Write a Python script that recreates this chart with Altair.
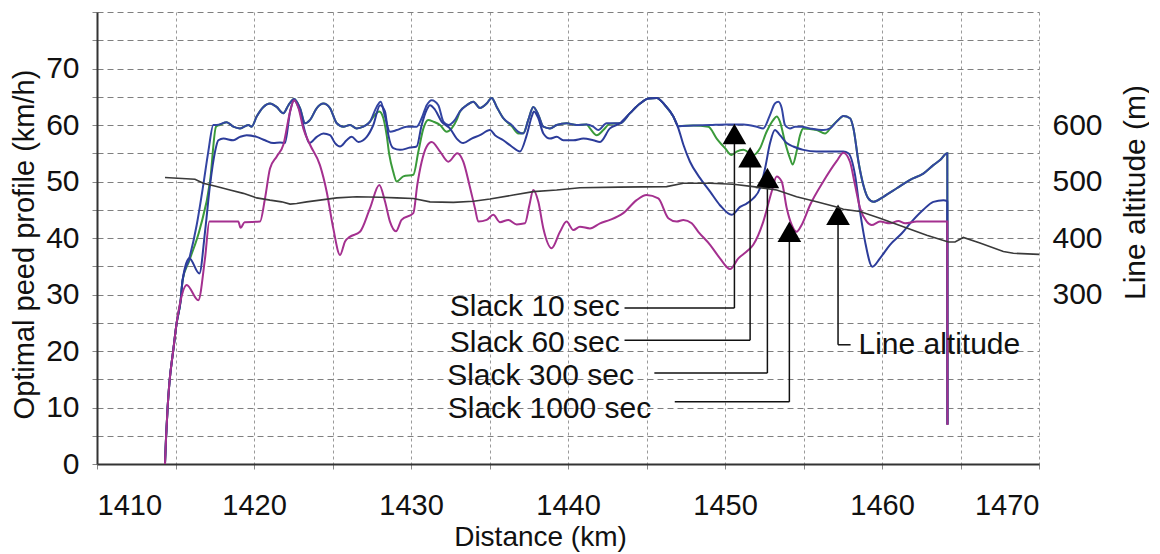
import altair as alt
import pandas as pd

# ---------------- data (km, km/h) ----------------
s10_km = [1414.33, 1414.40, 1414.50, 1414.61, 1414.86, 1415.07, 1415.33, 1415.45, 1415.88, 1416.35, 1416.77, 1417.09,
          1417.41, 1417.62, 1418.26, 1418.68, 1419.11, 1419.64, 1419.85, 1420.17, 1420.6, 1421.02, 1421.44, 1421.87,
          1422.19, 1422.55, 1422.93, 1423.25, 1423.57, 1424.0, 1424.42, 1424.84, 1425.27, 1425.69, 1426.11, 1426.54,
          1426.96, 1427.39, 1427.81, 1428.07, 1428.34, 1428.66, 1429.09, 1429.72, 1430.36, 1430.68, 1431.0, 1431.32,
          1431.74, 1432.06, 1432.38, 1432.8, 1433.12, 1433.55, 1433.97, 1434.39, 1434.82, 1435.14, 1435.46, 1435.88,
          1436.41, 1436.84, 1437.16, 1437.47, 1437.79, 1438.11, 1438.43, 1438.85, 1439.28, 1439.91, 1440.55, 1441.19,
          1441.61, 1441.93, 1442.46, 1443.31, 1443.95, 1444.59, 1445.12, 1445.65, 1446.18, 1446.71, 1447.03, 1447.98,
          1449.05, 1450.1, 1451.17, 1452.02, 1452.44, 1452.87, 1453.18, 1453.4, 1453.61, 1453.82, 1454.14, 1454.46,
          1454.88, 1455.41, 1456.26, 1456.69, 1457.11, 1457.54, 1457.96, 1458.18, 1458.5, 1458.81, 1459.13, 1459.45,
          1460.09, 1460.94, 1461.79, 1462.63, 1463.27, 1463.7, 1464.16, 1464.17]
s10_v = [0, 4.8, 10.1, 14.3, 20.2, 24.9, 29.0, 32.5, 36.4, 42.3, 49.4, 55.3,
         60.0, 60.0, 60.5, 59.7, 59.4, 60.0, 59.7, 61.5, 63.2, 63.8, 63.2, 62.1,
         63.5, 64.6, 63.0, 60.3, 60.9, 63.0, 63.8, 63.0, 60.3, 59.7, 60.0, 59.4,
         59.7, 60.6, 63.2, 64.1, 61.5, 58.8, 59.1, 59.7, 59.7, 61.2, 63.5, 64.4,
         63.5, 60.6, 60.0, 60.9, 62.4, 63.5, 64.1, 63.0, 63.8, 64.8, 63.2, 61.2,
         60.0, 58.8, 58.5, 60.9, 63.2, 61.8, 59.7, 59.4, 60.0, 60.3, 60.0, 60.1,
         59.7, 59.1, 60.3, 60.3, 62.1, 63.8, 64.7, 64.8, 63.5, 61.5, 59.8, 59.9,
         60.0, 60.1, 60.1, 59.7, 59.4, 61.8, 63.8, 64.1, 63.0, 60.0, 59.4, 59.7,
         59.7, 59.4, 59.1, 59.4, 60.6, 61.6, 61.2, 59.4, 53.5, 49.4, 47.0, 46.4,
         47.3, 48.8, 50.3, 51.4, 52.9, 53.8, 55.0, 7.0]

s60_km = [1414.33, 1414.40, 1414.50, 1414.61, 1414.86, 1415.07, 1415.33, 1415.45, 1415.88, 1416.56, 1417.2, 1417.58,
          1417.8, 1418.26, 1418.68, 1419.11, 1419.64, 1419.85, 1420.17, 1420.6, 1421.02, 1421.44, 1421.87, 1422.19,
          1422.55, 1422.93, 1423.25, 1423.57, 1424.0, 1424.42, 1424.84, 1425.27, 1425.69, 1426.11, 1426.54, 1426.96,
          1427.39, 1427.7, 1427.98, 1428.24, 1428.45, 1428.62, 1428.87, 1429.09, 1429.51, 1430.15, 1430.47, 1430.79,
          1431.1, 1431.42, 1431.85, 1432.27, 1432.59, 1432.91, 1433.12, 1433.55, 1433.97, 1434.39, 1434.82, 1435.14,
          1435.46, 1435.88, 1436.41, 1436.84, 1437.16, 1437.47, 1437.79, 1438.11, 1438.43, 1438.85, 1439.28, 1439.91,
          1440.55, 1441.19, 1441.4, 1441.83, 1442.25, 1442.67, 1443.31, 1443.95, 1444.59, 1445.12, 1445.65, 1446.18,
          1446.71, 1447.03, 1447.98, 1448.94, 1449.47, 1450.0, 1450.42, 1450.74, 1451.17, 1451.8, 1452.23, 1452.65,
          1453.08, 1453.29, 1453.5, 1453.82, 1454.14, 1454.31, 1454.56, 1454.78, 1454.99, 1455.84, 1456.37, 1456.79,
          1457.33, 1457.54, 1457.96, 1458.18, 1458.5, 1458.81, 1459.13, 1459.45, 1460.09, 1460.94, 1461.79, 1462.63,
          1463.27, 1463.7, 1464.16, 1464.17]
s60_v = [0, 4.8, 10.1, 14.3, 20.2, 24.9, 29.0, 32.5, 36.0, 41.7, 50.0, 59.7,
         60.0, 60.5, 59.7, 59.4, 60.0, 59.7, 61.5, 63.2, 63.8, 63.2, 62.1, 63.5,
         64.6, 63.0, 60.3, 60.9, 63.0, 63.8, 63.0, 60.3, 59.7, 60.0, 59.4, 59.7,
         60.6, 61.8, 62.4, 61.2, 58.2, 54.7, 51.7, 50.0, 50.9, 51.2, 55.3, 59.4,
         60.9, 60.6, 60.0, 58.8, 59.4, 60.9, 62.4, 63.5, 64.1, 63.0, 63.8, 64.8,
         63.2, 61.2, 59.8, 58.5, 58.6, 60.9, 63.2, 61.8, 59.7, 59.4, 60.0, 60.3,
         60.0, 60.1, 59.4, 58.2, 59.1, 60.2, 60.3, 62.1, 63.8, 64.7, 64.8, 63.5,
         61.5, 59.8, 59.9, 59.7, 57.6, 55.9, 54.7, 55.3, 55.6, 54.7, 55.9, 58.8,
         60.9, 61.5, 60.6, 57.0, 54.1, 53.0, 55.3, 58.2, 59.4, 59.1, 58.5, 59.7,
         61.2, 61.6, 61.2, 59.4, 53.5, 49.4, 47.0, 46.4, 47.3, 48.8, 50.3, 51.4,
         52.9, 53.8, 55.0, 7.0]

s300_km = [1414.33, 1414.40, 1414.50, 1414.61, 1414.86, 1415.07, 1415.33, 1415.45, 1415.88, 1416.52, 1416.88, 1417.2,
           1417.52, 1417.73, 1418.05, 1418.68, 1419.11, 1419.53, 1420.17, 1420.7, 1421.23, 1421.66, 1421.97, 1422.3,
           1422.55, 1422.93, 1423.25, 1423.53, 1424.0, 1424.42, 1424.84, 1425.16, 1425.48, 1425.9, 1426.22, 1426.65,
           1427.18, 1427.6, 1428.03, 1428.34, 1428.56, 1428.87, 1429.3, 1429.94, 1430.36, 1430.68, 1431.0, 1431.21,
           1431.53, 1431.95, 1432.48, 1432.91, 1433.33, 1433.86, 1434.39, 1435.03, 1435.35, 1435.88, 1436.41, 1436.94,
           1437.37, 1437.69, 1437.83, 1438.11, 1438.43, 1438.85, 1439.28, 1439.7, 1440.34, 1440.98, 1441.61, 1442.04,
           1442.67, 1443.31, 1443.95, 1444.59, 1445.12, 1445.65, 1446.18, 1446.71, 1447.03, 1447.35, 1447.77, 1448.41,
           1449.05, 1449.68, 1450.42, 1450.96, 1451.38, 1451.8, 1452.23, 1452.55, 1452.87, 1453.18, 1453.5, 1453.93,
           1454.35, 1454.99, 1455.84, 1456.69, 1457.54, 1457.86, 1458.28, 1458.6, 1458.92, 1459.39, 1459.87, 1460.51,
           1461.25, 1461.89, 1462.63, 1463.27, 1463.91, 1464.16, 1464.17]
s300_v = [0, 4.8, 10.1, 14.3, 20.2, 24.9, 29.0, 32.5, 36.4, 33.7, 41.1, 49.4,
          55.3, 57.3, 57.6, 57.3, 57.9, 58.2, 57.9, 57.3, 56.8, 56.9, 56.8, 62.4,
          64.4, 62.4, 58.8, 56.8, 57.9, 58.5, 58.2, 56.8, 56.2, 57.3, 57.9, 57.0,
          57.9, 60.0, 63.5, 62.4, 58.2, 55.9, 55.6, 56.0, 56.2, 60.0, 62.7, 63.5,
          62.7, 60.6, 59.4, 57.6, 56.8, 57.6, 58.2, 59.1, 58.2, 57.3, 56.2, 55.3,
          58.2, 61.5, 62.4, 61.2, 58.5, 57.6, 57.9, 57.3, 57.3, 57.6, 57.3, 57.0,
          59.4, 60.3, 62.1, 63.8, 64.7, 64.8, 63.5, 61.5, 59.4, 56.5, 53.5, 50.6,
          48.2, 45.8, 44.1, 45.5, 46.1, 47.0, 48.8, 52.3, 56.8, 59.1, 58.2, 56.8,
          56.2, 55.6, 55.3, 55.3, 55.3, 55.0, 51.2, 44.7, 39.4, 34.9, 36.4, 38.8,
          40.8, 42.9, 45.0, 46.4, 46.7, 46.5, 7.0]

s1000_km = [1414.33, 1414.40, 1414.50, 1414.61, 1414.86, 1415.07, 1415.33, 1415.71, 1416.45, 1416.88, 1417.16, 1419.0,
            1419.15, 1419.4, 1420.38, 1420.7, 1421.02, 1421.44, 1421.87, 1422.3, 1422.55, 1422.83, 1423.14, 1423.57,
            1424.2, 1424.63, 1425.05, 1425.48, 1425.8, 1426.1, 1426.75, 1427.39, 1427.98, 1428.34, 1428.66, 1429.04,
            1429.4, 1430.15, 1430.4, 1430.68, 1431.0, 1431.32, 1431.85, 1432.38, 1432.95, 1433.33, 1433.72, 1434.08,
            1434.29, 1434.82, 1435.24, 1435.67, 1436.2, 1436.73, 1437.26, 1437.54, 1437.79, 1438.11, 1438.43, 1438.96,
            1439.49, 1439.91, 1440.34, 1440.76, 1441.4, 1442.04, 1442.67, 1443.52, 1444.37, 1445.0, 1445.75, 1446.39,
            1446.92, 1447.35, 1447.88, 1448.3, 1449.05, 1449.68, 1450.32, 1450.85, 1451.38, 1451.8, 1452.44, 1452.97,
            1453.29, 1453.61, 1453.93, 1454.25, 1454.56, 1454.88, 1455.41, 1456.26, 1457.11, 1457.54, 1457.96, 1458.28,
            1458.6, 1459.03, 1459.34, 1459.87, 1460.51, 1461.04, 1461.47, 1462.21, 1463.06, 1464.16, 1464.17]
s1000_v = [0, 4.8, 10.1, 14.3, 20.2, 24.9, 29.0, 31.7, 29.0, 36.4, 42.9, 42.9,
           41.8, 42.8, 42.9, 47.0, 52.3, 54.4, 56.5, 62.4, 64.4, 63.0, 59.4, 56.5,
           52.9, 48.2, 41.7, 37.0, 39.4, 40.2, 41.1, 45.3, 49.4, 46.5, 42.9, 41.2,
           43.2, 44.4, 49.4, 53.5, 56.2, 57.0, 55.3, 53.5, 55.0, 53.5, 49.4, 45.2,
           42.9, 43.2, 44.1, 42.8, 43.2, 42.4, 42.6, 45.8, 48.5, 46.4, 41.7, 38.2,
           41.1, 42.9, 41.4, 42.0, 41.7, 42.6, 43.2, 44.4, 46.7, 47.6, 47.0, 43.5,
           42.9, 43.2, 42.6, 41.1, 38.8, 36.4, 34.5, 36.4, 37.6, 38.8, 42.9, 48.2,
           50.9, 50.0, 45.3, 42.3, 41.1, 42.3, 45.8, 50.0, 53.6, 55.1, 53.5, 49.4,
           45.3, 42.9, 42.3, 42.9, 42.6, 43.0, 42.6, 42.9, 42.9, 42.9, 6.9]

alt_km = [1414.33, 1416.24, 1416.77, 1417.62, 1418.47, 1419.32, 1420.17, 1421.02, 1421.76, 1422.3, 1422.72, 1423.35,
          1424.2, 1425.27, 1426.54, 1428.03, 1429.09, 1430.15, 1431.21, 1432.7, 1433.97, 1435.03, 1436.52, 1437.79,
          1439.28, 1440.76, 1443.27, 1446.28, 1447.35, 1449.05, 1450.53, 1451.8, 1453.29, 1454.56, 1455.84, 1457.11,
          1457.54, 1458.6, 1459.87, 1461.36, 1462.85, 1464.23, 1464.65, 1465.18, 1466.24, 1467.73, 1468.37, 1470.0]
alt_m = [507, 504, 497, 491, 485, 479, 471, 467, 464, 460, 461, 464,
         467, 471, 473, 472, 471, 470, 464, 463, 465, 469, 476, 482,
         485, 489, 490, 491, 497, 497, 495, 491, 485, 473, 464, 455,
         451, 447, 435, 420, 405, 393, 393, 401, 391, 376, 373, 371]

# drawing order: green first so the blue lines sit on top of it, magenta last
series_names = ["Slack 60 sec", "Slack 10 sec", "Slack 300 sec", "Slack 1000 sec"]
series_colors = ["#3a9a3a", "#3345a3", "#2c3c9a", "#a4308f"]
series_km = [s60_km, s10_km, s300_km, s1000_km]
series_v = [s60_v, s10_v, s300_v, s1000_v]

# annotations (data coordinates)
ann_labels = ["Slack 10 sec", "Slack 60 sec", "Slack 300 sec", "Slack 1000 sec"]
ann_text_km = [1443.3, 1443.3, 1444.2, 1445.3]
ann_text_v = [27.8, 21.4, 15.5, 9.7]
ann_line_start_km = [1443.6, 1443.6, 1445.5, 1446.8]
ann_line_v = [27.6, 21.9, 16.1, 11.0]
ann_arrow_km = [1450.6, 1451.6, 1452.7, 1454.1]
ann_arrow_v = [58.4, 54.3, 50.6, 41.1]

alt_label = ["Line altitude"]
alt_label_km = [1458.5]
alt_label_v = [21.1]
alt_line_start_km = [1458.0]
alt_arrow_km = [1457.2]
alt_arrow_v = [44.1]

# ---------------- tables ----------------
alt_df = pd.DataFrame({"km": alt_km, "alt": alt_m, "idx": list(range(len(alt_km)))})
ann_df = pd.DataFrame({
    "label": ann_labels + alt_label,
    "tkm": ann_text_km + alt_label_km,
    "tv": ann_text_v + alt_label_v,
    "km0": ann_line_start_km + alt_line_start_km,
    "lv": ann_line_v + alt_label_v,
    "km": ann_arrow_km + alt_arrow_km,
    "v": ann_arrow_v + alt_arrow_v,
    "left": [False] * 4 + [True],
})

FONT = "Liberation Sans"
FS = 30
TXT = "#111111"

x_scale = alt.Scale(domain=[1410, 1470], nice=False, zero=False)
y_scale = alt.Scale(domain=[0, 80], nice=False)

x_axis = alt.Axis(
    values=list(range(1410, 1471, 5)), format="d",
    labelExpr="datum.value % 10 == 0 ? datum.label : ''",
    title="Distance (km)", titleX=443, titleY=73, titleBaseline="middle", titleAlign="center",
    grid=True, gridDash=[3, 3], gridColor="#9a9a9a", gridWidth=1,
    domainColor="#333333", domainWidth=2, tickColor="#888888", tickSize=5,
    labelPadding=22, labelFlush=True, labelFont=FONT, labelFontSize=FS - 1, labelColor=TXT,
    titleFont=FONT, titleFontSize=FS - 2, titleFontWeight="normal", titleColor=TXT,
)
y_axis = alt.Axis(
    values=list(range(0, 81, 5)), format="d",
    labelExpr="datum.value % 10 == 0 && datum.value < 80 ? datum.label : ''",
    title="Optimal peed profile (km/h)", titleAngle=-90, titleX=-73, titleY=232,
    titleBaseline="middle", titleAlign="center",
    grid=True, gridDash=[6, 4], gridColor="#7f7f7f", gridWidth=1,
    domainColor="#333333", domainWidth=2, tickColor="#888888", tickSize=5,
    labelPadding=13, labelFont=FONT, labelFontSize=FS, labelColor=TXT,
    titleFont=FONT, titleFontSize=FS - 1, titleFontWeight="normal", titleColor=TXT,
)

X = alt.X("km:Q", scale=x_scale, axis=x_axis)
Y = alt.Y("v:Q", scale=y_scale, axis=y_axis)

line_layers = []
for name, col, kms, vs in zip(series_names, series_colors, series_km, series_v):
    df = pd.DataFrame({"km": kms, "v": vs, "idx": list(range(len(kms))), "series": name})
    line_layers.append(
        alt.Chart(df).mark_line(strokeWidth=2, interpolate="monotone", color=col).encode(
            x=X, y=Y, order=alt.Order("idx:Q")
        )
    )

h_rules = alt.Chart(ann_df).mark_rule(color="#111111", strokeWidth=1.5).encode(
    x=X, x2="km0:Q", y=alt.Y("lv:Q", scale=y_scale, axis=y_axis)
)
v_rules = alt.Chart(ann_df).mark_rule(color="#111111", strokeWidth=1.5).encode(
    x=X, y=alt.Y("lv:Q", scale=y_scale, axis=y_axis), y2="v:Q"
)
arrows = alt.Chart(ann_df).mark_point(shape="triangle-up", filled=True, color="#000000", size=560, opacity=1).encode(
    x=X, y=Y
)
texts_r = alt.Chart(ann_df).transform_filter("!datum.left").mark_text(
    align="right", baseline="middle", font=FONT, fontSize=FS, color=TXT
).encode(x=alt.X("tkm:Q", scale=x_scale, axis=x_axis), y=alt.Y("tv:Q", scale=y_scale, axis=y_axis), text="label:N")
texts_l = alt.Chart(ann_df).transform_filter("datum.left").mark_text(
    align="left", baseline="middle", font=FONT, fontSize=FS, color=TXT
).encode(x=alt.X("tkm:Q", scale=x_scale, axis=x_axis), y=alt.Y("tv:Q", scale=y_scale, axis=y_axis), text="label:N")

altitude = alt.Chart(alt_df).mark_line(color="#3a3a3a", strokeWidth=1.6).encode(
    x=X,
    y=alt.Y("alt:Q", scale=alt.Scale(domain=[0, 800], nice=False), axis=alt.Axis(
        orient="right", values=[300, 400, 500, 600], format="d", grid=False, domain=False, ticks=False,
        title="Line altitude (m)", titleAngle=-90, titleX=96, titleY=180,
        titleBaseline="middle", titleAlign="center",
        labelPadding=13, labelFont=FONT, labelFontSize=FS, labelColor=TXT,
        titleFont=FONT, titleFontSize=FS, titleFontWeight="normal", titleColor=TXT,
    )),
    order=alt.Order("idx:Q"),
)

speed_layer = alt.layer(*line_layers, h_rules, v_rules, arrows, texts_r, texts_l)

chart = alt.layer(speed_layer, altitude).resolve_scale(y="independent").properties(
    width=942, height=452,
    autosize=alt.AutoSizeParams(type="none"),
    padding={"left": 89, "top": 4, "right": 110, "bottom": 88},
    background="#ffffff",
).configure_view(stroke=None)

chart.save("out.html", embed_options={"renderer": "svg", "actions": False})
